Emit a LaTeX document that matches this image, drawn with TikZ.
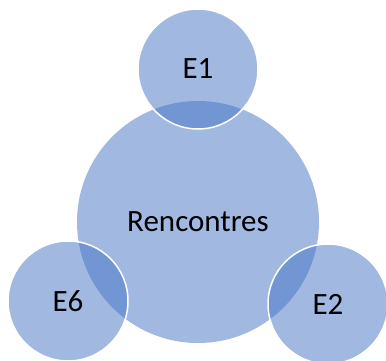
\documentclass[tikz,border=0pt]{standalone}
\usepackage{fontspec}
\setmainfont{Carlito}
\definecolor{acc}{HTML}{4472C4}
\begin{document}
\begin{tikzpicture}[x=1pt,y=-1pt,
  big/.style={circle,fill=acc,fill opacity=0.5,text opacity=1,minimum size=242pt,inner sep=0pt},
  small/.style={circle,fill=acc,fill opacity=0.5,draw=white,draw opacity=1,line width=1.5pt,text opacity=1,minimum size=120pt,inner sep=0pt},
  lbl/.style={font=\fontsize{31}{36}\selectfont,text=black}]
\useasboundingbox (0,0) rectangle (386,360);
\node[big] (c) at (198,222) {};
\node[small] (e1) at (198,69) {};
\node[small] (e6) at (68,301) {};
\node[small] (e2) at (328,304) {};
\node[lbl] (tc) at (c.center) {Rencontres};
\node[lbl] (t1) at (e1.center) {E1};
\node[lbl] (t6) at (e6.center) {E6};
\node[lbl] (t2) at (e2.center) {E2};
\end{tikzpicture}
\end{document}
